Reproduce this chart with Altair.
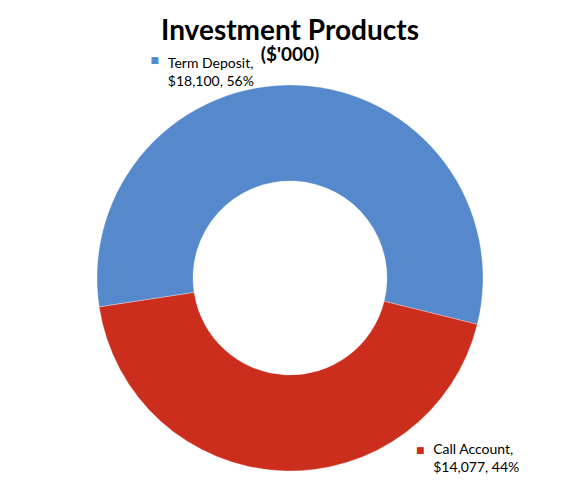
import altair as alt
import pandas as pd

categories = ["Term Deposit", "Call Account"]
values = [18100, 14077]
percents = ["56%", "44%"]
colors = ["#5689CB", "#CC2E1D"]

labels = [f"{c},\n${v:,}, {p}" for c, v, p in zip(categories, values, percents)]
df = pd.DataFrame({"category": categories, "value": values, "label": labels,
                   "order": list(range(len(categories))), "marker": ["■"] * len(categories)})

total = sum(values)
start = -1.721
tscale = alt.Scale(domain=[0, total], range=[start, start + 2 * 3.141592653589793])
color = alt.Color("category:N", scale=alt.Scale(domain=categories, range=colors), legend=None)

arcs = alt.Chart(df).mark_arc(outerRadius=193, innerRadius=97, stroke="#ffffff",
                              strokeWidth=0.6, strokeOpacity=0.5).encode(
    theta=alt.Theta("value:Q", stack=True, scale=tscale),
    color=color, order=alt.Order("order:Q"))

lab = alt.Chart(df).transform_window(
    cum="sum(value)", sort=[alt.SortField("order")]
).transform_calculate(mid="datum.cum - datum.value / 2")


def label_layer(cat, radius, tdx, tdy, mdx, mdy):
    f = lab.transform_filter(alt.datum.category == cat).encode(
        theta=alt.Theta("mid:Q", stack=None, scale=tscale))
    txt = f.mark_text(radius=radius, align="left", baseline="alphabetic", lineBreak="\n",
                      font="Lato", fontSize=14, lineHeight=18, color="#000000",
                      dx=tdx, dy=tdy).encode(text="label:N")
    mk = f.mark_text(radius=radius, align="center", baseline="middle", font="DejaVu Sans",
                     fontSize=9, dx=mdx, dy=mdy).encode(text="marker:N", color=color)
    return [mk, txt]


layers = [arcs] + label_layer("Term Deposit", 213, -132, 3, -145, -5) \
    + label_layer("Call Account", 170, 151, 6, 138, 2)

chart = alt.layer(*layers).properties(
    width=564, height=404,
    padding={"top": 68, "left": 0, "right": 0, "bottom": 0},
    autosize=alt.AutoSizeParams(type="none"),
    title=alt.Title("Investment Products", subtitle="($'000)", anchor="middle",
                    font="Lato", fontSize=28, fontWeight="bold", color="#000000",
                    subtitleFont="Lato", subtitleFontSize=19, subtitleFontWeight="bold",
                    subtitleColor="#000000", subtitlePadding=0, offset=-9),
).configure_view(stroke=None)

chart.save("out.html", embed_options={"renderer": "svg", "actions": False})
